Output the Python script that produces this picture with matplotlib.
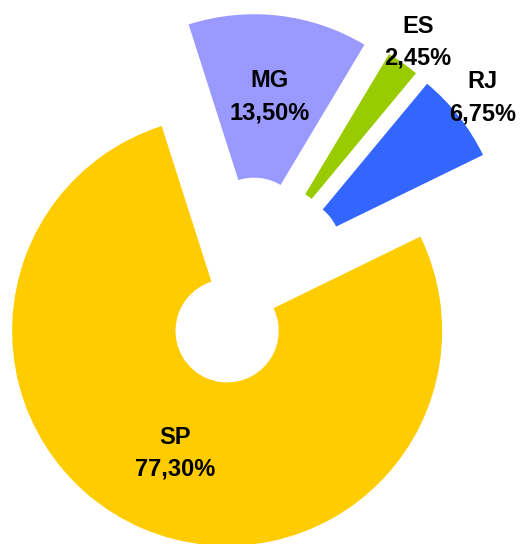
import numpy as np
import matplotlib
matplotlib.use("Agg")
import matplotlib.pyplot as plt

# slice data (clockwise, first slice starts at 26 deg)
states = ["SP", "MG", "ES", "RJ"]
shares = [77.30, 13.50, 2.45, 6.75]
colors = ["#FFCC00", "#9999FF", "#99CC00", "#3366FF"]
label_dist = [0.62, 0.62, 1.12, 1.14]

fig = plt.figure(figsize=(5.2, 5.44), dpi=100)
ax = fig.add_axes([0, 0, 1, 1])

wedges, _ = ax.pie(shares, colors=colors, explode=[0.247] * len(shares),
                   startangle=26, counterclock=False, radius=1.0,
                   wedgeprops=dict(width=0.76, linewidth=0))

for w, name, val, dist in zip(wedges, states, shares, label_dist):
    mid = np.deg2rad((w.theta1 + w.theta2) / 2)
    cx, cy = w.center
    txt = "%s\n%s%%" % (name, ("%.2f" % val).replace(".", ","))
    ax.text(cx + dist * np.cos(mid), cy + dist * np.sin(mid), txt,
            ha="center", va="center", fontsize=17, fontweight="bold",
            family="Liberation Sans", linespacing=1.5, color="black")

# pixel layout: centre at (248, 282) px, 215 px per unit radius
ax.set_xlim(-248 / 215, (520 - 248) / 215)
ax.set_ylim((282 - 544) / 215, 282 / 215)
ax.set_aspect("equal", adjustable="datalim")
ax.axis("off")

fig.savefig("out.png", dpi=100)
